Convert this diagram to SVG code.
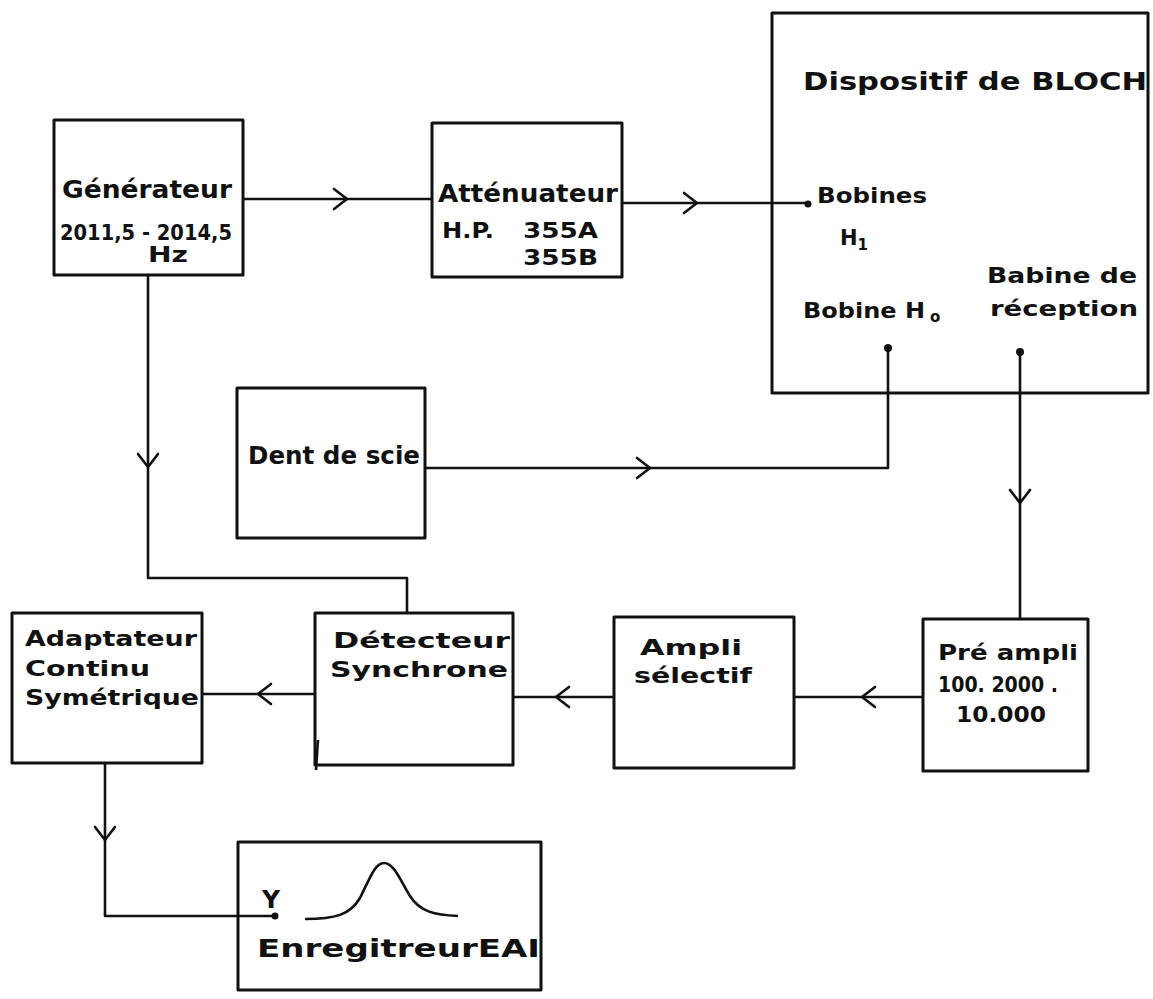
<svg xmlns="http://www.w3.org/2000/svg" xmlns:xlink="http://www.w3.org/1999/xlink" width="1153" height="999" viewBox="0 0 1153 999">
<style>
.box{fill:none;stroke:#111;stroke-width:3;stroke-linejoin:round}
.con{fill:none;stroke:#111;stroke-width:2.6;stroke-linejoin:round}
.chev{fill:none;stroke:#111;stroke-width:2.6;stroke-linecap:round;stroke-linejoin:round}
.dot{fill:#111}
text{font-family:"DejaVu Sans","Liberation Sans",sans-serif;font-weight:bold;fill:#111;font-size:25px}
.md{font-size:22px}
.sm{font-size:21px}
.sub{font-size:15px}
</style>
<defs>
<path id="chev" class="chev" d="M-13,-10 L0,0 L-13,10"/>
</defs>
<rect width="1153" height="999" fill="#fff"/>

<g id="generateur">
<rect class="box" x="54" y="120" width="189" height="155"/>
<text x="62" y="198" textLength="170" lengthAdjust="spacingAndGlyphs">Générateur</text>
<text class="sm" x="60" y="240" textLength="172" lengthAdjust="spacingAndGlyphs">2011,5 - 2014,5</text>
<text class="sm" x="148" y="262" textLength="40" lengthAdjust="spacingAndGlyphs">Hz</text>
</g>

<g id="attenuateur">
<rect class="box" x="432" y="123" width="190" height="154"/>
<text x="438" y="202" textLength="180" lengthAdjust="spacingAndGlyphs">Atténuateur</text>
<text class="sm" x="442" y="238" textLength="52" lengthAdjust="spacingAndGlyphs">H.P.</text>
<text class="sm" x="523" y="238" textLength="75" lengthAdjust="spacingAndGlyphs">355A</text>
<text class="sm" x="523" y="265" textLength="75" lengthAdjust="spacingAndGlyphs">355B</text>
</g>

<g id="bloch">
<rect class="box" x="772" y="13" width="376" height="380"/>
<text x="803" y="90" font-size="30" textLength="344" lengthAdjust="spacingAndGlyphs">Dispositif de BLOCH</text>
<text class="sm" x="817" y="203" textLength="110" lengthAdjust="spacingAndGlyphs">Bobines</text>
<text class="sm" x="840" y="245">H<tspan class="sub" dy="5">1</tspan></text>
<text class="sm" x="987" y="283" textLength="150" lengthAdjust="spacingAndGlyphs">Babine de</text>
<text class="sm" x="803" y="318" textLength="122" lengthAdjust="spacingAndGlyphs">Bobine H</text>
<text class="sub" x="930" y="322">o</text>
<text class="sm" x="990" y="316" textLength="148" lengthAdjust="spacingAndGlyphs">réception</text>
</g>

<g id="dent-de-scie">
<rect class="box" x="237" y="388" width="188" height="150"/>
<text x="248" y="464" textLength="172" lengthAdjust="spacingAndGlyphs">Dent de scie</text>
</g>

<g id="adaptateur">
<rect class="box" x="12" y="613" width="190" height="150"/>
<text class="md" x="25" y="646" textLength="172" lengthAdjust="spacingAndGlyphs">Adaptateur</text>
<text class="md" x="25" y="676" textLength="125" lengthAdjust="spacingAndGlyphs">Continu</text>
<text class="md" x="25" y="705" textLength="174" lengthAdjust="spacingAndGlyphs">Symétrique</text>
</g>

<g id="detecteur">
<rect class="box" x="315" y="613" width="198" height="152"/>
<path class="con" d="M318,740 L316,770"/>
<text class="md" x="333" y="648" textLength="177" lengthAdjust="spacingAndGlyphs">Détecteur</text>
<text class="md" x="330" y="677" textLength="178" lengthAdjust="spacingAndGlyphs">Synchrone</text>
</g>

<g id="ampli">
<rect class="box" x="614" y="617" width="180" height="151"/>
<text class="md" x="640" y="655" textLength="102" lengthAdjust="spacingAndGlyphs">Ampli</text>
<text class="md" x="634" y="683" textLength="118" lengthAdjust="spacingAndGlyphs">sélectif</text>
</g>

<g id="preampli">
<rect class="box" x="923" y="619" width="165" height="152"/>
<text class="md" x="938" y="660" textLength="140" lengthAdjust="spacingAndGlyphs">Pré ampli</text>
<text class="sm" x="938" y="692" textLength="120" lengthAdjust="spacingAndGlyphs">100. 2000 .</text>
<text class="sm" x="956" y="722" textLength="90" lengthAdjust="spacingAndGlyphs">10.000</text>
</g>

<g id="enregistreur">
<rect class="box" x="238" y="842" width="303" height="148"/>
<text x="262" y="908" font-size="34">Y</text>
<path class="con" d="M305,919 C335,919 350,915 360,898 C370,878 375,863 384,863 C394,863 400,880 410,896 C420,912 435,915 458,916"/>
<text x="257" y="957" textLength="283" lengthAdjust="spacingAndGlyphs">EnregitreurEAI</text>
</g>

<g id="connectors">
<path class="con" d="M243,199 H432"/>
<use xlink:href="#chev" transform="translate(347,199)"/>
<path class="con" d="M622,203 H808"/>
<use xlink:href="#chev" transform="translate(697,203)"/>
<circle class="dot" cx="808" cy="204" r="3.5"/>
<path class="con" d="M148,275 V578 H407 V613"/>
<use xlink:href="#chev" transform="translate(148,467) rotate(90)"/>
<path class="con" d="M425,468 H888 V348"/>
<use xlink:href="#chev" transform="translate(650,468)"/>
<circle class="dot" cx="888" cy="348" r="4"/>
<path class="con" d="M1020,352 V619"/>
<use xlink:href="#chev" transform="translate(1020,503) rotate(90)"/>
<circle class="dot" cx="1020" cy="352" r="4"/>
<path class="con" d="M923,697 H794"/>
<use xlink:href="#chev" transform="translate(862,697) rotate(180)"/>
<path class="con" d="M614,697 H513"/>
<use xlink:href="#chev" transform="translate(556,697) rotate(180)"/>
<path class="con" d="M315,694 H202"/>
<use xlink:href="#chev" transform="translate(258,694) rotate(180)"/>
<path class="con" d="M105,763 V916 H275"/>
<use xlink:href="#chev" transform="translate(105,840) rotate(90)"/>
<circle class="dot" cx="275" cy="916" r="3.5"/>
</g>
</svg>
